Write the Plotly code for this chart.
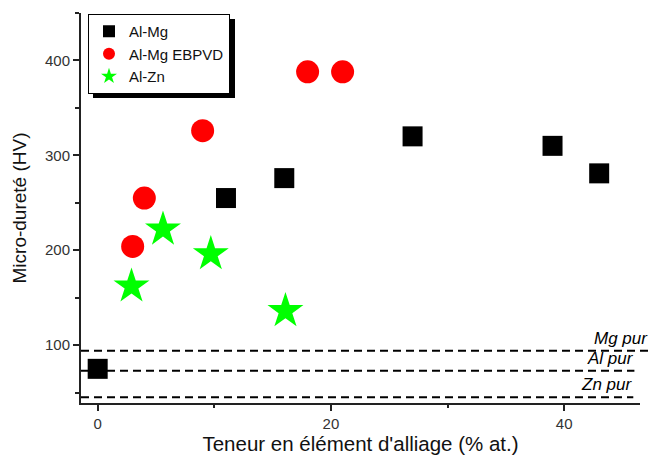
import plotly.graph_objects as go

# Data
almg_x = [0, 11, 16, 27, 39, 43]
almg_y = [75, 255, 276, 320, 310, 281]
ebpvd_x = [3, 4, 9, 18, 21]
ebpvd_y = [204, 255, 326, 388, 388]
alzn_x = [2.9, 5.6, 9.7, 16.1]
alzn_y = [162, 222, 196, 136]
ref_names = ["Mg pur", "Al pur", "Zn pur"]
ref_values = [94, 73, 45]
ref_ends = [1.016, 0.99, 0.988]
x_ticks = [0, 20, 40]
y_ticks = [100, 200, 300, 400]

FONT = "Liberation Sans, Arial, sans-serif"
W, H = 649, 455
L, R, T, B = 81, 9, 13, 52
PW, PH = W - L - R, H - T - B

def px_x(px):
    return (px - L) / PW

def px_y(py):
    return (H - B - py) / PH

fig = go.Figure()
fig.add_trace(go.Scatter(x=almg_x, y=almg_y, mode="markers", name="Al-Mg",
                         marker=dict(symbol="square", size=20, color="black")))
fig.add_trace(go.Scatter(x=ebpvd_x, y=ebpvd_y, mode="markers", name="Al-Mg EBPVD",
                         marker=dict(symbol="circle", size=23, color="#ff0000")))
fig.add_trace(go.Scatter(x=alzn_x, y=alzn_y, mode="markers", name="Al-Zn",
                         marker=dict(symbol="star", size=27, color="#00ff00")))

for name, val, end in zip(ref_names, ref_values, ref_ends):
    fig.add_shape(type="line", xref="paper", yref="y", x0=0, x1=end, y0=val, y1=val,
                  line=dict(color="black", width=2, dash="8px,5px"), layer="below")
    fig.add_annotation(xref="paper", yref="y", x=end + 0.002, y=val, text="<i>" + name + "</i>",
                       showarrow=False, xanchor="right", yanchor="bottom", yshift=1,
                       font=dict(family=FONT, size=17, color="black"))

# legend shadow (offset to the lower right of the legend box)
fig.add_shape(type="rect", xref="paper", yref="paper",
              x0=px_x(93), x1=px_x(235), y0=px_y(98), y1=px_y(19),
              fillcolor="black", line=dict(width=0), layer="above")

fig.update_layout(
    width=W, height=H,
    margin=dict(l=L, r=R, t=T, b=B),
    paper_bgcolor="white", plot_bgcolor="white",
    font=dict(family=FONT, color="#222"),
    showlegend=True,
    legend=dict(x=px_x(88), y=px_y(14), xanchor="left", yanchor="top",
                bgcolor="white", bordercolor="black", borderwidth=1,
                font=dict(family=FONT, size=15, color="#111"),
                tracegroupgap=0, itemsizing="constant"),
    xaxis=dict(range=[-1.43, 46.5], tickvals=x_ticks, showgrid=False, zeroline=False,
               automargin=False,
               showline=True, linecolor="#222", linewidth=2, ticks="outside", ticklen=6,
               tickwidth=1.5, tickcolor="#222",
               minor=dict(dtick=10, tick0=0, ticks="outside", ticklen=3, tickcolor="#222", showgrid=False),
               tickfont=dict(size=15, color="#333"),
               title=dict(text="Teneur en élément d'alliage (% at.)", font=dict(size=20.5, color="#111"), standoff=7)),
    yaxis=dict(range=[39, 450], tickvals=y_ticks, showgrid=False, zeroline=False,
               automargin=False,
               showline=True, linecolor="#222", linewidth=2, ticks="outside", ticklen=6,
               tickwidth=1.5, tickcolor="#222",
               minor=dict(dtick=50, tick0=0, ticks="outside", ticklen=4, tickcolor="#222", showgrid=False),
               tickfont=dict(size=15, color="#333"),
               title=dict(text="Micro-dureté (HV)", font=dict(size=19, color="#111"), standoff=13)),
)

fig.write_html("out.html", config={"displayModeBar": False},
               post_script="document.body.style.margin='0';document.body.style.padding='0';")
